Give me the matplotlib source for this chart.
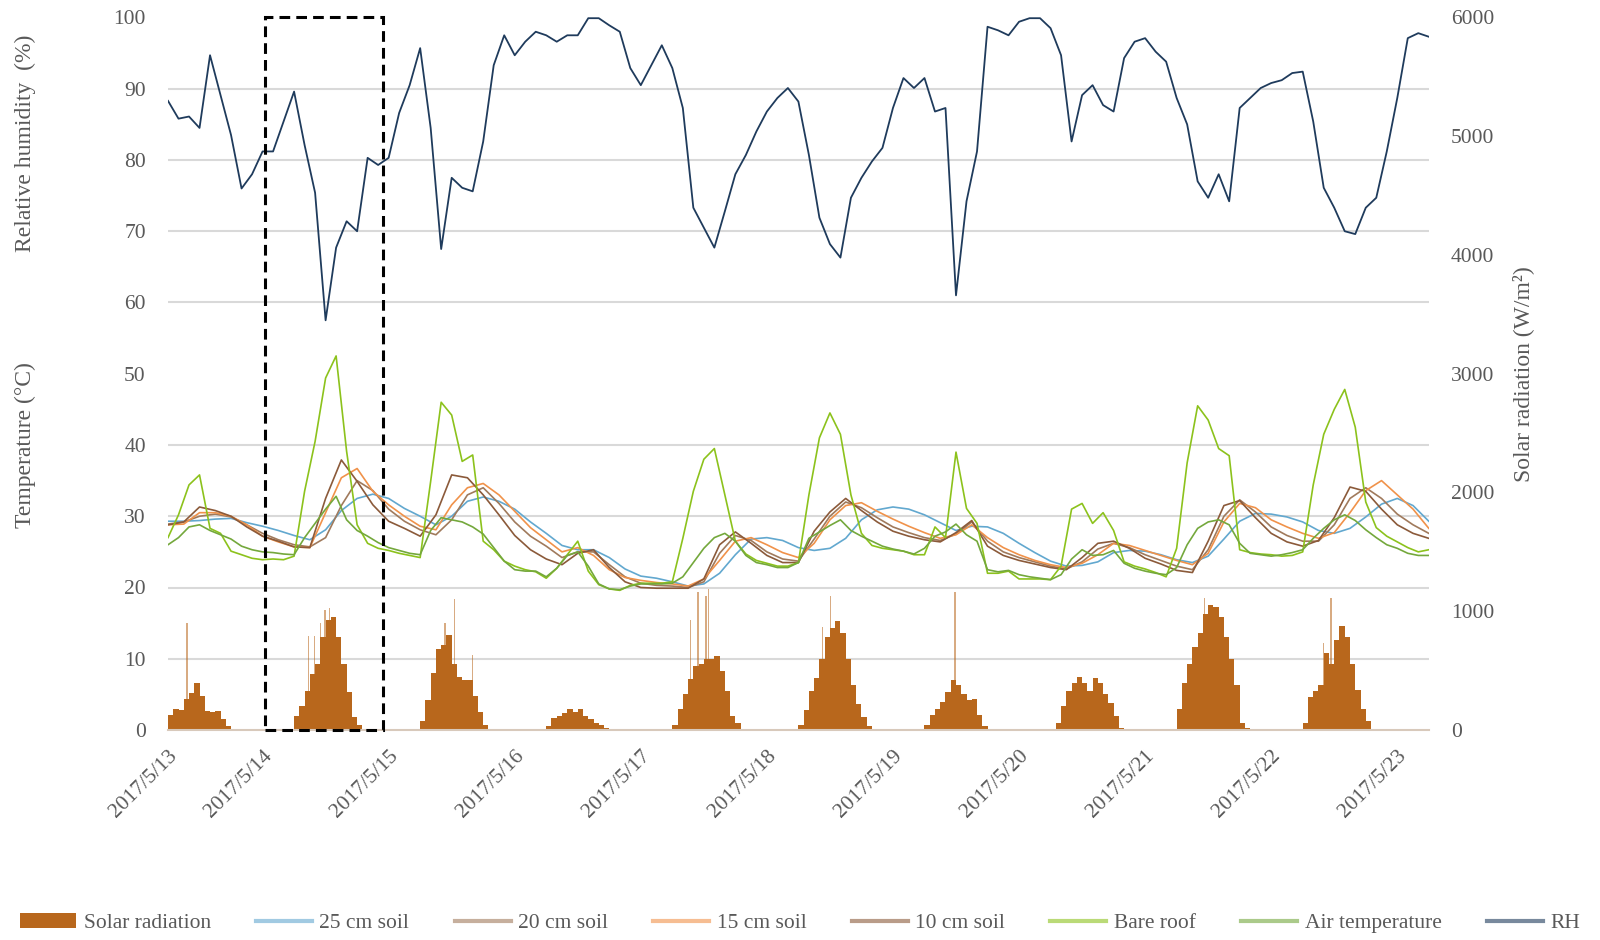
import numpy as np
import pandas as pd
import matplotlib
matplotlib.use("Agg")
import matplotlib.pyplot as plt
import matplotlib.dates as mdates
from matplotlib.patches import Rectangle, Patch
from matplotlib.lines import Line2D
from matplotlib.ticker import MultipleLocator

plt.rcParams['font.family'] = ['Liberation Serif', 'DejaVu Serif']

start = pd.Timestamp('2017-05-13 06:00')
end = pd.Timestamp('2017-05-23 06:00')

# 2-hourly readings from 05-13 06:00
rh = [88.3, 85.8, 86.1, 84.5, 94.7, 89.1, 83.5, 76.0, 78.0, 81.2,
      81.2, 85.4, 89.6, 82.1, 75.4, 57.5, 67.7, 71.4, 70.0, 80.3,
      79.3, 80.3, 86.6, 90.5, 95.7, 84.5, 67.5, 77.5, 76.1, 75.6,
      82.6, 93.3, 97.5, 94.7, 96.6, 98.0, 97.5, 96.6, 97.5, 97.5,
      99.9, 99.9, 98.9, 98.0, 92.9, 90.5, 93.3, 96.1, 92.9, 87.3,
      73.3, 70.5, 67.7, 72.8, 78.0, 80.7, 84.0, 86.8, 88.7, 90.1,
      88.2, 80.7, 71.9, 68.2, 66.3, 74.7, 77.5, 79.8, 81.7, 87.3,
      91.5, 90.1, 91.5, 86.8, 87.3, 61.0, 74.2, 81.2, 98.7, 98.2,
      97.5, 99.4, 99.9, 99.9, 98.5, 94.7, 82.6, 89.1, 90.5, 87.7,
      86.8, 94.3, 96.6, 97.1, 95.2, 93.8, 88.7, 85.0, 77.0, 74.7,
      78.0, 74.2, 87.3, 88.7, 90.1, 90.8, 91.2, 92.2, 92.4, 85.4,
      76.1, 73.3, 70.0, 69.6, 73.3, 74.7, 81.2, 88.7, 97.1, 97.8,
      97.3]

bare_roof = [27.0, 30.2, 34.4, 35.8, 28.3, 27.6, 25.1, 24.6, 24.1, 23.9,
             24.0, 23.9, 24.4, 33.5, 40.5, 49.4, 52.5, 39.1, 28.8, 26.2,
             25.5, 25.2, 24.8, 24.5, 24.2, 34.9, 46.0, 44.2, 37.7, 38.6,
             26.5, 25.3, 23.7, 23.0, 22.5, 22.2, 21.3, 22.7, 24.6, 26.5,
             22.3, 20.4, 19.8, 19.6, 20.3, 20.6, 20.6, 20.6, 20.8, 26.9,
             33.5, 38.0, 39.5, 33.0, 26.5, 24.7, 23.8, 23.4, 23.0, 23.0,
             23.5, 33.0, 41.0, 44.5, 41.5, 33.0, 27.6, 25.9, 25.5, 25.3,
             25.1, 24.6, 24.6, 28.5, 27.0, 39.0, 31.1, 29.0, 22.0, 22.0,
             22.3, 21.2, 21.2, 21.2, 21.1, 23.0, 31.0, 31.8, 29.0, 30.5,
             28.0, 23.6, 23.0, 22.6, 22.1, 21.5, 25.5, 37.5, 45.5, 43.5,
             39.5, 38.5, 25.3, 24.9, 24.7, 24.6, 24.4, 24.5, 25.0, 34.4,
             41.5, 45.0, 47.8, 42.5, 32.0, 28.4, 27.2, 26.4, 25.6, 25.0,
             25.3]

air_temp = [26.0, 27.0, 28.5, 28.8, 28.0, 27.4, 26.8, 25.8, 25.3, 25.0,
            24.9, 24.7, 24.6, 27.0, 29.0, 31.0, 32.8, 29.5, 28.0, 27.2,
            26.3, 25.6, 25.2, 24.8, 24.6, 28.0, 29.8, 29.5, 29.2, 28.5,
            27.5, 25.6, 23.7, 22.5, 22.3, 22.3, 21.5, 22.7, 24.5, 25.0,
            23.0, 20.5, 19.8, 19.7, 20.2, 20.5, 20.5, 20.5, 20.6, 21.5,
            23.5, 25.5, 27.0, 27.6, 26.5, 24.5, 23.5, 23.2, 22.8, 22.8,
            23.5, 26.9, 27.8, 28.7, 29.5, 28.0, 27.2, 26.5, 25.8, 25.4,
            25.1, 24.7, 25.5, 27.2, 27.8, 28.9, 27.4, 26.5, 22.5, 22.2,
            22.4, 21.8, 21.5, 21.3, 21.1, 21.8, 24.0, 25.3, 24.5, 24.6,
            25.2, 23.4, 22.7, 22.3, 22.0, 21.8, 22.8, 26.0, 28.3, 29.2,
            29.5, 28.8, 26.2, 24.8, 24.6, 24.4, 24.6, 24.9, 25.3, 26.9,
            28.3, 29.5, 30.2, 29.4, 28.1, 27.0, 26.0, 25.5, 24.8, 24.5,
            24.5]

# 3-hourly soil temperatures from 05-13 06:00
soil_25 = [29.3, 29.3, 29.4, 29.6, 29.7, 29.1, 28.6, 28.0, 27.3, 26.7,
           28.1, 30.8, 32.5, 33.1, 32.5, 31.1, 30.0, 28.8, 30.0, 32.1,
           32.7, 32.1, 31.0, 29.2, 27.6, 25.9, 25.3, 25.3, 24.2, 22.6,
           21.6, 21.3, 20.8, 20.2, 20.5, 22.0, 24.6, 26.8, 27.0, 26.6,
           25.6, 25.2, 25.5, 26.9, 29.5, 30.9, 31.3, 31.0, 30.2, 29.1,
           28.0, 28.6, 28.5, 27.6, 26.2, 24.9, 23.7, 23.0, 23.1, 23.6,
           24.9, 25.2, 25.1, 24.6, 23.9, 23.5, 24.4, 26.8, 29.3, 30.4,
           30.3, 29.9, 29.2, 28.0, 27.6, 28.3, 29.9, 31.7, 32.5, 31.5,
           29.3]

soil_20 = [28.9, 29.2, 30.0, 30.3, 29.9, 28.8, 27.6, 26.7, 26.0, 25.7,
           27.0, 31.5, 35.0, 33.6, 31.0, 29.3, 28.1, 27.4, 29.5, 33.0,
           34.0, 31.8, 29.2, 27.2, 25.8, 24.2, 25.0, 25.0, 23.2, 21.5,
           20.6, 20.3, 20.2, 20.0, 20.8, 24.8, 27.3, 26.6, 25.0, 24.0,
           23.7, 26.8, 30.0, 32.0, 31.2, 29.8, 28.5, 27.7, 27.0, 26.6,
           27.5, 29.2, 26.5, 25.0, 24.2, 23.6, 23.0, 22.6, 23.6, 25.4,
           26.2, 25.6, 24.6, 23.8, 23.0, 22.5, 25.3, 30.0, 32.3, 30.6,
           28.5, 27.3, 26.5, 26.5, 28.8, 32.5, 34.0, 32.5, 30.3, 28.8,
           27.6]

soil_15 = [28.8, 28.9, 30.5, 30.5, 30.0, 28.8, 27.2, 26.4, 25.7, 25.6,
           30.5, 35.4, 36.7, 33.5, 31.6, 30.0, 28.6, 28.1, 31.6, 34.0,
           34.6, 33.0, 30.7, 28.4, 26.7, 25.0, 25.6, 24.5, 22.5, 21.4,
           21.0, 20.7, 20.5, 20.2, 21.2, 23.8, 26.5, 27.0, 26.0, 24.9,
           24.2, 26.2, 29.5, 31.5, 31.9, 30.7, 29.6, 28.6, 27.7, 26.9,
           27.4, 28.8, 27.0, 25.6, 24.6, 23.8, 23.2, 22.8, 23.4, 24.6,
           26.2, 25.9, 25.2, 24.5, 23.8, 23.2, 24.8, 29.2, 31.8, 31.2,
           29.5, 28.5, 27.6, 26.9, 27.7, 30.5, 33.6, 35.0, 33.0, 31.0,
           28.3]

soil_10 = [28.8, 29.2, 31.3, 30.8, 30.0, 28.5, 27.2, 26.5, 25.7, 25.6,
           32.5, 37.9, 34.9, 31.6, 29.3, 28.3, 27.2, 30.2, 35.8, 35.4,
           33.0, 30.2, 27.3, 25.3, 24.0, 23.2, 24.8, 25.3, 22.8, 20.8,
           20.0, 19.9, 19.9, 19.9, 21.2, 26.0, 27.8, 26.2, 24.5, 23.5,
           23.5, 27.9, 30.6, 32.5, 30.8, 29.2, 27.9, 27.2, 26.7, 26.4,
           27.7, 29.4, 25.8, 24.5, 23.8, 23.3, 22.8, 22.5, 24.2, 26.2,
           26.5, 25.5, 24.1, 23.3, 22.4, 22.1, 26.5, 31.5, 32.2, 29.8,
           27.6, 26.4, 25.8, 26.6, 29.8, 34.1, 33.5, 31.0, 28.8, 27.6,
           26.9]

# hourly solar radiation (W/m2), each day's list starting at 06:00
sun_days = ['2017-05-13', '2017-05-14', '2017-05-15', '2017-05-16', '2017-05-17',
            '2017-05-18', '2017-05-19', '2017-05-20', '2017-05-21', '2017-05-22']
sun_w = [
    [130, 180, 170, 260, 310, 400, 290, 160, 150, 160, 90, 30, 0, 0],
    [120, 200, 330, 470, 560, 780, 930, 950, 780, 560, 320, 110, 40, 0],
    [80, 250, 480, 680, 720, 800, 560, 450, 420, 420, 290, 150, 40, 0],
    [30, 100, 120, 140, 180, 150, 180, 120, 90, 60, 40, 20, 0, 0],
    [40, 180, 300, 430, 540, 560, 600, 600, 620, 500, 330, 120, 60, 0],
    [40, 170, 330, 440, 600, 780, 860, 920, 820, 600, 380, 220, 110, 30],
    [40, 130, 180, 240, 320, 420, 380, 300, 250, 260, 130, 30, 0, 0],
    [0, 60, 200, 330, 400, 450, 400, 330, 440, 400, 300, 230, 120, 20],
    [180, 400, 560, 700, 820, 980, 1050, 1040, 950, 780, 600, 380, 60, 20],
    [60, 280, 330, 380, 650, 560, 760, 880, 780, 560, 340, 180, 80, 10],
]
# short bursts of sunshine between clouds
burst_time = ['2017-05-13 09:36', '2017-05-14 08:48', '2017-05-14 09:54', '2017-05-14 11:00',
              '2017-05-14 11:54', '2017-05-14 12:42', '2017-05-15 10:42', '2017-05-15 12:30',
              '2017-05-15 16:00', '2017-05-17 09:30', '2017-05-17 10:54', '2017-05-17 12:24',
              '2017-05-17 12:54', '2017-05-18 10:36', '2017-05-18 12:06', '2017-05-19 11:48',
              '2017-05-21 11:18', '2017-05-22 09:54', '2017-05-22 11:24']
burst_w = [900, 790, 790, 900, 1010, 1030, 900, 1100, 630, 930, 1160, 1130, 1190,
           870, 1130, 1160, 1110, 730, 1110]

box_from, box_to = pd.Timestamp('2017-05-14 00:30'), pd.Timestamp('2017-05-14 22:50')

c_text = '#595959'
c_grid = '#d9d9d9'
c_sun = '#b8671c'
colors = {
    '25 cm soil': '#62a8cf',
    '20 cm soil': '#a07a5c',
    '15 cm soil': '#f0924a',
    '10 cm soil': '#8b5a3a',
    'Bare roof': '#8cc21c',
    'Air temperature': '#74a83c',
    'RH': '#1f3b5c',
}

t2 = pd.date_range(start, periods=len(rh), freq='2h')
t3 = pd.date_range(start, periods=len(soil_25), freq='3h')

sun_t, sun_v = [], []
for day, vals in zip(sun_days, sun_w):
    sun_t.extend(pd.date_range(pd.Timestamp(day) + pd.Timedelta(hours=6), periods=len(vals), freq='h'))
    sun_v.extend(vals)
sun_x = mdates.date2num(pd.DatetimeIndex(sun_t).to_pydatetime())
burst_x = mdates.date2num(pd.DatetimeIndex(burst_time).to_pydatetime())

fig = plt.figure(figsize=(16, 9.4), dpi=100)
ax = fig.add_axes([0.105, 0.2234, 0.788, 0.758])
ax2 = ax.twinx()
ax.set_zorder(ax2.get_zorder() + 1)
ax.patch.set_visible(False)

# radiation bars on the right-hand scale
ax2.bar(sun_x, sun_v, width=1 / 24, align='edge', color=c_sun, linewidth=0)
ax2.bar(burst_x, burst_w, width=0.25 / 24, align='center', color=c_sun, alpha=0.55, linewidth=0)
ax2.set_ylim(0, 6000)
ax2.set_yticks(range(0, 6001, 1000))
ax2.yaxis.set_minor_locator(MultipleLocator(600))
ax2.grid(which='minor', axis='y', color=c_grid, linewidth=1.5)
ax2.set_axisbelow(True)
ax2.tick_params(axis='y', which='both', length=0, labelcolor=c_text, labelsize=15.5, pad=16)

ax.plot(t3, soil_25, color=colors['25 cm soil'], lw=1.2)
ax.plot(t3, soil_20, color=colors['20 cm soil'], lw=1.2)
ax.plot(t3, soil_15, color=colors['15 cm soil'], lw=1.2)
ax.plot(t3, soil_10, color=colors['10 cm soil'], lw=1.2)
ax.plot(t2, bare_roof, color=colors['Bare roof'], lw=1.2)
ax.plot(t2, air_temp, color=colors['Air temperature'], lw=1.2)
ax.plot(t2, rh, color=colors['RH'], lw=1.3)

ax.set_ylim(0, 100)
ax.set_yticks(range(0, 101, 10))
ax.set_xlim(start, end)
ticks = [start] + list(pd.date_range('2017-05-14', '2017-05-23', freq='D'))
ax.set_xticks(ticks)
ax.set_xticklabels([f'{t.year}/{t.month}/{t.day}' for t in ticks],
                   rotation=45, ha='right', va='top', rotation_mode='anchor')
ax.tick_params(axis='both', length=0, labelcolor=c_text, labelsize=15.5)
ax.tick_params(axis='y', pad=16)
ax.tick_params(axis='x', pad=12)

for a in (ax, ax2):
    for side in ('top', 'left', 'right', 'bottom'):
        a.spines[side].set_visible(False)
ax.spines['bottom'].set_visible(True)
ax.spines['bottom'].set_color('#d8c9bb')
ax.spines['bottom'].set_linewidth(1.5)

# highlighted day
ax.add_patch(Rectangle((mdates.date2num(box_from), 0),
                       mdates.date2num(box_to) - mdates.date2num(box_from), 100,
                       fill=False, edgecolor='black', linewidth=2.2,
                       linestyle=(0, (3.5, 2)), clip_on=False, zorder=5))

fig.text(0.016, 0.848, 'Relative humidity  (%)', rotation=90, ha='center', va='center',
         fontsize=17, color=c_text)
fig.text(0.016, 0.527, 'Temperature (°C)', rotation=90, ha='center', va='center',
         fontsize=17, color=c_text)
fig.text(0.952, 0.602, 'Solar radiation (W/m²)', rotation=90, ha='center', va='center',
         fontsize=17, color=c_text)

handles = [Patch(facecolor=c_sun, edgecolor='none', label='Solar radiation')]
for name in ['25 cm soil', '20 cm soil', '15 cm soil', '10 cm soil', 'Bare roof', 'Air temperature', 'RH']:
    handles.append(Line2D([], [], color=colors[name], lw=3, alpha=0.6, label=name))
fig.legend(handles=handles, loc='center', bbox_to_anchor=(0.5, 0.018), ncol=8, frameon=False,
           fontsize=15.5, handlelength=2.6, handletextpad=0.35, columnspacing=2.1,
           labelcolor=c_text)

fig.savefig('out.png', dpi=100)
